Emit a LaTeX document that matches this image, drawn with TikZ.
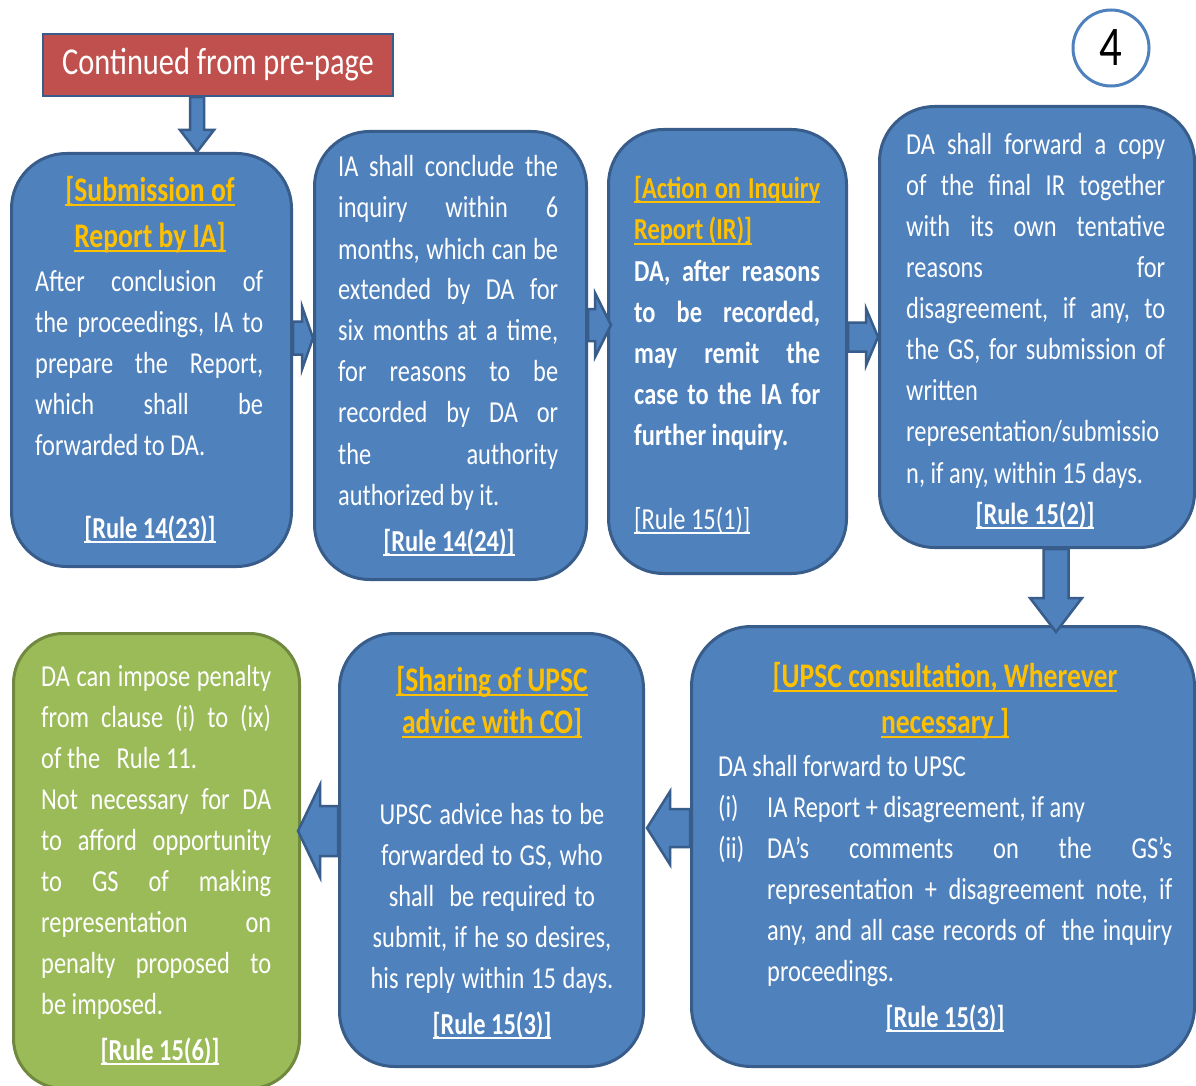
\documentclass[tikz,border=0pt]{standalone}
\usepackage{fontspec}
\setmainfont{Carlito}[FakeStretch=0.8]
\usetikzlibrary{calc}
\definecolor{boxblue}{HTML}{4F81BD}
\definecolor{edgeblue}{HTML}{385D8A}
\definecolor{boxgreen}{HTML}{9BBB59}
\definecolor{edgegreen}{HTML}{71893F}
\definecolor{boxred}{HTML}{C0504D}
\definecolor{titlegold}{HTML}{FFC000}
\newcommand\sk{\spaceskip=.181em plus .09em minus .05em\relax\frenchspacing}
\newcommand\ul[1]{\leavevmode\setbox0\hbox{#1}\rlap{\rule[-5pt]{\wd0}{1.8pt}}\box0}
\newcommand\J[1]{\makebox[\linewidth][s]{\spaceskip=.181em plus 1fil\relax #1}}
\newcommand\BA[5]{%
  \coordinate (bat) at (#1);
  \coordinate (bap) at (#2);
  \coordinate (bab) at ($(bap)!#3pt!(bat)$);
  \draw[barrow] ($(bat)!#4pt!90:(bap)$) -- ($(bab)!#4pt!90:(bap)$) -- ($(bab)!#5pt!90:(bap)$) -- (bap)
     -- ($(bab)!#5pt!-90:(bap)$) -- ($(bab)!#4pt!-90:(bap)$) -- ($(bat)!#4pt!-90:(bap)$) -- cycle;}
\tikzset{
  bluebox/.style={draw=edgeblue, line width=3pt, fill=boxblue, rounded corners=55pt, inner sep=0pt, anchor=north west},
  greenbox/.style={draw=edgegreen, line width=3pt, fill=boxgreen, rounded corners=50pt, inner sep=0pt, anchor=north west},
  txtbase/.style={inner sep=0pt, execute at begin node=\sk},
  body/.style={txtbase, text=white, font=\fontsize{30.5}{41}\selectfont, align=left, anchor=base west},
  bodyb/.style={txtbase, text=white, font=\bfseries\fontsize{30.5}{41}\selectfont, align=left, anchor=base west},
  ttl/.style={txtbase, text=titlegold, font=\bfseries\fontsize{34.5}{46}\selectfont, align=center, anchor=base},
  rulet/.style={txtbase, text=white, font=\bfseries\fontsize{30.5}{41}\selectfont, anchor=base},
  barrow/.style={draw=edgeblue, line width=2.5pt, fill=boxblue, line join=miter},
}
\begin{document}
\begin{tikzpicture}[x=1pt,y=-1pt]
\useasboundingbox (0,0) rectangle (1196,1086);
\clip (0,0) rectangle (1196,1086);
\fill[white] (0,0) rectangle (1196,1086);

% header
\node[txtbase, draw=edgeblue, line width=2.5pt, fill=boxred, minimum width=350, minimum height=62,
      text=white, font=\fontsize{38}{46}\selectfont] (red) at (218,65) {Continued from pre-page};
\node[circle, draw=boxblue, line width=3pt, fill=white, minimum size=76, inner sep=0pt,
      font=\fontsize{56}{60}\selectfont] (pg) at (1111,48) {4};

% boxes
\node[bluebox, minimum width=280, minimum height=413] (A) at (10,152) {};
\node[bluebox, minimum width=272, minimum height=448] (B) at (313,130) {};
\node[bluebox, minimum width=238, minimum height=444] (C) at (607,128) {};
\node[bluebox, minimum width=315, minimum height=441] (D) at (878,105) {};
\node[bluebox, rounded corners=60pt, minimum width=503, minimum height=440] (E) at (690,625) {};
\node[bluebox, minimum width=304, minimum height=433] (F) at (338,632) {};
\node[greenbox, minimum width=286, minimum height=455] (G) at (12,632) {};

% box A
\node[ttl, text width=280] (At) at (150,201) {\ul{[Submission of}\\\ul{Report by IA]}};
\node[body, text width=228] (Ab) at (35,291) {\J{After conclusion of}\\
\J{the proceedings, IA to}\\
\J{prepare the Report,}\\
\J{which shall be}\\
forwarded to DA.};
\node[rulet] (Ar) at (150,538) {\ul{[Rule 14(23)]}};

% box B
\node[body, text width=220] (Bb) at (338,177) {\J{IA shall conclude the}\\
\J{inquiry within 6}\\
\J{months, which can be}\\
\J{extended by DA for}\\
\J{six months at a time,}\\
\J{for reasons to be}\\
\J{recorded by DA or}\\
\J{the authority}\\
authorized by it.};
\node[rulet] (Br) at (449,551) {\ul{[Rule 14(24)]}};

% box C
\node[ttl, font=\bfseries\fontsize{30.5}{42}\selectfont, text width=186, align=left, anchor=base west] (Ct) at (634,198)
  {\ul{\J{[Action on Inquiry}}\\\ul{Report (IR)]}};
\node[bodyb, text width=186] (Cb) at (634,281) {\J{DA, after reasons}\\
\J{to be recorded,}\\
\J{may remit the}\\
\J{case to the IA for}\\
further inquiry.};
\node[rulet, font=\fontsize{30.5}{41}\selectfont, anchor=base west] (Cr) at (634,529) {\ul{[Rule 15(1)]}};

% box D
\node[body, text width=259] (Db) at (906,155) {\J{DA shall forward a copy}\\
\J{of the final IR together}\\
\J{with its own tentative}\\
\J{reasons for}\\
\J{disagreement, if any, to}\\
\J{the GS, for submission of}\\
written\\
representation/submissio\\
n, if any, within 15 days.};
\node[rulet] (Dr) at (1035,524) {\ul{[Rule 15(2)]}};

% box E
\node[ttl, text width=500] (Et) at (945,687) {\ul{[UPSC consultation, Wherever}\\\ul{necessary ]}};
\node[body] (Ea) at (718,776) {DA shall forward to UPSC};
\node[body] (Ei) at (718,817) {(i)};
\node[body] (Eii) at (718,858) {(ii)};
\node[body, text width=405] (Eb) at (767,817) {IA Report + disagreement, if any\\
\J{DA’s comments on the GS’s}\\
\J{representation + disagreement note, if}\\
\J{any, and all case records of\ \ the inquiry}\\
proceedings.};
\node[rulet] (Er) at (945,1027) {\ul{[Rule 15(3)]}};

% box F
\node[ttl, font=\bfseries\fontsize{34.5}{42}\selectfont, text width=300] (Ft) at (492,691) {\ul{[Sharing of UPSC}\\\ul{advice with CO]}};
\node[body, text width=300, align=center, anchor=base] (Fb) at (492,824) {UPSC advice has to be\\
forwarded to GS, who\\
shall\ \ be required to\\
submit, if he so desires,\\
his reply within 15 days.};
\node[rulet] (Fr) at (492,1034) {\ul{[Rule 15(3)]}};

% box G
\node[body, text width=230] (Gb) at (41,686) {\J{DA can impose penalty}\\
\J{from clause (i) to (ix)}\\
of the\ \ \ Rule 11.\\
\J{Not necessary for DA}\\
\J{to afford opportunity}\\
\J{to GS of making}\\
\J{representation on}\\
\J{penalty proposed to}\\
be imposed.};
\node[rulet] (Gr) at (160,1060) {\ul{[Rule 15(6)]}};

% block arrows
\BA{197,0 |- red.south}{197,0 |- A.north}{22}{7}{17}
\BA{A.east |- 0,338}{B.west |- 0,338}{11}{16.5}{31.5}
\BA{B.east |- 0,325}{$(C.west |- 0,325)+(4,0)$}{16}{16}{32}
\BA{C.east |- 0,337}{D.west |- 0,337}{12}{14.5}{28.5}
\BA{1056,0 |- D.south}{$(1056,0 |- E.north)+(0,7)$}{34}{12.5}{26}
\BA{E.west |- 0,828}{$(F.east |- 0,828)+(2,0)$}{23}{19}{36.5}
\BA{F.west |- 0,831}{$(G.east |- 0,831)+(-3,0)$}{22}{25}{46}
\end{tikzpicture}
\end{document}
